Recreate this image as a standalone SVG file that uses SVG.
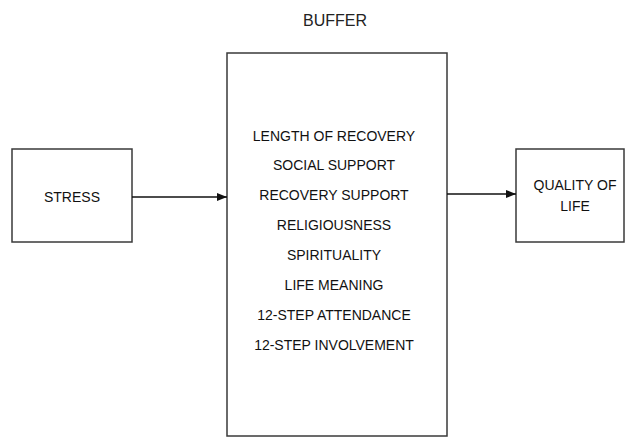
<svg xmlns="http://www.w3.org/2000/svg" width="625" height="437" viewBox="0 0 625 437">
<style>
.box{fill:#fff;stroke:#3a3a3a;stroke-width:1.5}
.t{font-family:"Liberation Sans",Arial,sans-serif;font-size:14px;fill:#111;text-anchor:middle}
.h{font-size:16px;fill:#222}
.c{stroke:#111;stroke-width:1.3;fill:none}
</style>
<defs>
<marker id="ah" markerWidth="10" markerHeight="8" refX="10" refY="4" orient="auto" markerUnits="userSpaceOnUse">
<path d="M0,0 L10,4 L0,8 Z" fill="#111"/>
</marker>
</defs>
<rect width="625" height="437" fill="#fff"/>
<g id="stress">
<rect class="box" x="12" y="149" width="120" height="93"/>
<text class="t" x="72" y="202">STRESS</text>
</g>
<g id="buffer">
<text class="t h" x="335" y="26">BUFFER</text>
<rect class="box" x="227" y="53" width="220" height="383"/>
<text class="t" x="334" y="141">LENGTH OF RECOVERY</text>
<text class="t" x="334" y="170">SOCIAL SUPPORT</text>
<text class="t" x="334" y="200">RECOVERY SUPPORT</text>
<text class="t" x="334" y="230">RELIGIOUSNESS</text>
<text class="t" x="334" y="260">SPIRITUALITY</text>
<text class="t" x="334" y="290">LIFE MEANING</text>
<text class="t" x="334" y="320">12-STEP ATTENDANCE</text>
<text class="t" x="334" y="350">12-STEP INVOLVEMENT</text>
</g>
<g id="quality">
<rect class="box" x="516" y="149" width="108" height="93"/>
<text class="t" x="575" y="190">QUALITY OF</text>
<text class="t" x="575" y="211">LIFE</text>
</g>
<g id="connectors">
<line class="c" x1="132" y1="197" x2="227" y2="197" marker-end="url(#ah)"/>
<line class="c" x1="447" y1="194" x2="516" y2="194" marker-end="url(#ah)"/>
</g>
</svg>
